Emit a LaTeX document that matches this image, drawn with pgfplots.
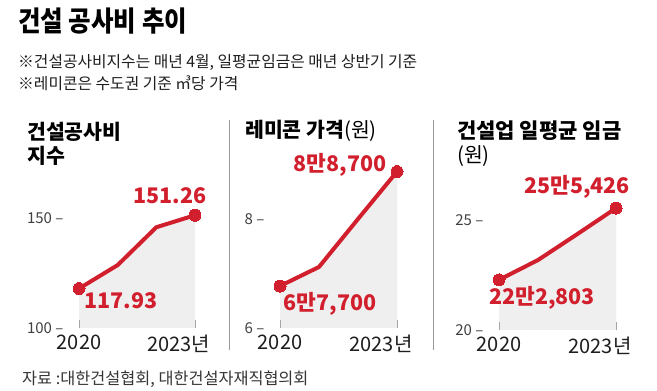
\documentclass[border=0pt]{standalone}
\usepackage{fontspec}
\setmainfont{Noto Sans CJK KR}
\usepackage{pgfplots}
\pgfplotsset{compat=1.18}
\definecolor{cred}{HTML}{D21F2D}
\definecolor{cfill}{HTML}{EFEFEF}
\definecolor{ctxt}{HTML}{1E1E1E}
\definecolor{csep}{HTML}{9A9A9A}
\pgfplotsset{panel/.style={
  scale only axis, anchor=south west, clip=false,
  axis lines*=left, axis line style={draw=none},
  axis on top,
  xmin=0, xmax=3,
  xtick={0}, xticklabels={2020},
  extra x ticks={3}, extra x tick labels={2023년},
  extra x tick style={xticklabel style={xshift=-16pt}, major tick length=8pt, tick style={draw=gray!70, line width=0.8pt}},
  tick align=inside, major tick length=8pt,
  xtick style={draw=gray!70, line width=0.8pt},
  ytick style={draw=none},
  xticklabel style={font=\fontsize{20}{22}\selectfont, text=ctxt, yshift=-3pt},
  yticklabel style={font=\fontsize{15}{17}\selectfont, text=ctxt!85, xshift=-12pt},
},
fillp/.style={draw=none, fill=cfill},
linep/.style={cred, line width=4pt, line join=round, mark=*, mark indices={1,4}, mark size=6pt, mark options={fill=cred, draw=cred, line width=0pt}},
}
\begin{document}
\begin{tikzpicture}
\path[fill=white, use as bounding box] (0pt,0pt) rectangle (657pt,391pt);
% titles
\node[anchor=west, inner sep=0, text=black] at (18pt,369.5pt) {\scalebox{0.98}[1.12]{\fontsize{25}{28}\selectfont\bfseries 건설 공사비 추이}};
\node[anchor=west, inner sep=0, text=ctxt] at (18pt,329pt) {\fontsize{15.8}{17}\selectfont ※건설공사비지수는 매년 4월, 일평균임금은 매년 상반기 기준};
\node[anchor=west, inner sep=0, text=ctxt] at (18pt,307.5pt) {\fontsize{15.8}{17}\selectfont ※레미콘은 수도권 기준 ㎥당 가격};
% panel titles
\node[anchor=west, inner sep=0, text=black] at (27pt,259pt) {\fontsize{20.5}{22}\selectfont\bfseries 건설공사비};
\node[anchor=west, inner sep=0, text=black] at (27pt,235pt) {\fontsize{20.5}{22}\selectfont\bfseries 지수};
\node[anchor=west, inner sep=0, text=black] at (245pt,260pt) {\fontsize{20.5}{22}\selectfont\bfseries 레미콘 가격\mdseries(원)};
\node[anchor=west, inner sep=0, text=black] at (457pt,260pt) {\fontsize{21}{22}\selectfont\bfseries 건설업 일평균 임금};
\node[anchor=west, inner sep=0, text=black] at (457pt,235pt) {\fontsize{20.5}{22}\selectfont (원)};
% separators
\draw[csep, line width=1pt] (229pt,271pt) -- (229pt,41pt);
\draw[csep, line width=1pt] (433pt,271pt) -- (433pt,41pt);
% panel 1
\begin{axis}[panel, at={(79pt,63pt)}, width=116pt, height=110pt, ymin=100, ymax=150,
  ytick={100,150}, yticklabels={100 –,150 –}]
\addplot[fillp] coordinates {(0,117.93) (1,128.6) (2,145.8) (3,151.26)} \closedcycle;
\addplot[linep] coordinates {(0,117.93) (1,128.6) (2,145.8) (3,151.26)};
\end{axis}
% panel 2
\begin{axis}[panel, at={(280pt,63pt)}, width=117pt, height=109pt, ymin=6, ymax=8,
  ytick={6,8}, yticklabels={6 –,8 –}]
\addplot[fillp] coordinates {(0,6.77) (1,7.12) (2,8.0) (3,8.87)} \closedcycle;
\addplot[linep] coordinates {(0,6.77) (1,7.12) (2,8.0) (3,8.87)};
\end{axis}
% panel 3
\begin{axis}[panel, at={(499pt,61pt)}, width=117pt, height=110pt, ymin=20, ymax=25,
  ytick={20,25}, yticklabels={20 –,25 –}]
\addplot[fillp] coordinates {(0,22.28) (1,23.18) (2,24.35) (3,25.54)} \closedcycle;
\addplot[linep] coordinates {(0,22.28) (1,23.18) (2,24.35) (3,25.54)};
\end{axis}
% data labels
\node[text=cred, inner sep=0] at (170pt,195pt) {\fontsize{21.5}{23}\selectfont\bfseries 151.26};
\node[text=cred, inner sep=0] at (121pt,90pt) {\fontsize{21.5}{23}\selectfont\bfseries 117.93};
\node[text=cred, inner sep=0] at (340pt,226pt) {\fontsize{21.5}{23}\selectfont\bfseries 8만8,700};
\node[text=cred, inner sep=0] at (330pt,87pt) {\fontsize{21.5}{23}\selectfont\bfseries 6만7,700};
\node[text=cred, inner sep=0] at (577pt,204pt) {\fontsize{21.5}{23}\selectfont\bfseries 25만5,426};
\node[text=cred, inner sep=0] at (542pt,93pt) {\fontsize{21.5}{23}\selectfont\bfseries 22만2,803};
% source
\node[anchor=west, inner sep=0, text=ctxt!90] at (22pt,12pt) {\fontsize{16.3}{18}\selectfont 자료 :대한건설협회, 대한건설자재직협의회};
\end{tikzpicture}
\end{document}
